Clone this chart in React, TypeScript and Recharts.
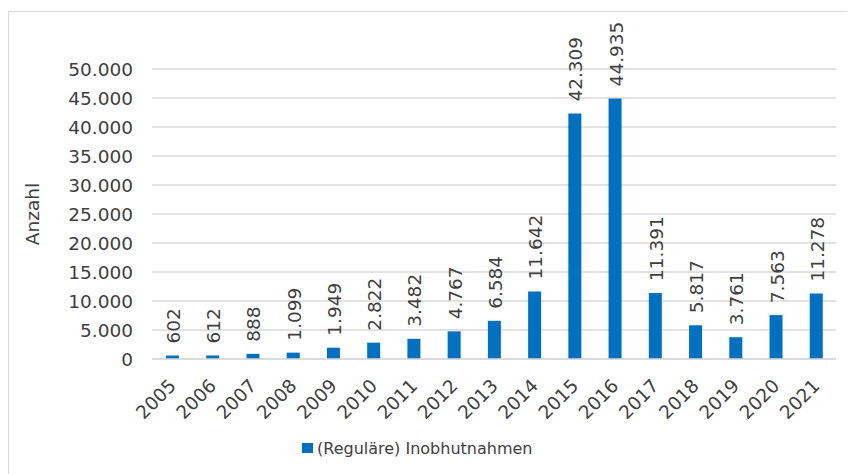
import React from 'react';
import { BarChart, Bar, XAxis, YAxis, CartesianGrid, Legend, LabelList } from 'recharts';

const years = ['2005', '2006', '2007', '2008', '2009', '2010', '2011', '2012', '2013', '2014', '2015', '2016', '2017', '2018', '2019', '2020', '2021'];
const counts = [602, 612, 888, 1099, 1949, 2822, 3482, 4767, 6584, 11642, 42309, 44935, 11391, 5817, 3761, 7563, 11278];
const yTicks = [0, 5000, 10000, 15000, 20000, 25000, 30000, 35000, 40000, 45000, 50000];
const seriesName = '(Reguläre) Inobhutnahmen';
const axisTitle = 'Anzahl';

const data = years.map((y, i) => ({ year: y, value: counts[i] }));

const FONT = '"DejaVu Sans", Verdana, sans-serif';
const TEXT = '#404040';
const BLUE = '#0070C0';
const GRID = '#d9d9d9';
const FS = 18.5;

const fmt = (v: number) => String(Math.round(v)).replace(/\B(?=(\d{3})+(?!\d))/g, '.');

const XTick = (props: any) => {
  const { x, y, payload } = props;
  const ax = x + 5;
  const ay = y + 20;
  return (
    <text x={ax} y={ay} textAnchor="end" fill={TEXT} fontFamily={FONT} fontSize={FS} transform={`rotate(-45, ${ax}, ${ay})`}>
      {payload.value}
    </text>
  );
};

const YLabel = (props: any) => {
  const { viewBox } = props;
  const cx = 23;
  const cy = viewBox.y + viewBox.height / 2;
  return (
    <text x={cx} y={cy} textAnchor="middle" dominantBaseline="central" fill={TEXT} fontFamily={FONT} fontSize={FS} transform={`rotate(-90, ${cx}, ${cy})`}>
      {axisTitle}
    </text>
  );
};

const ValueLabel = (props: any) => {
  const { x, y, width, value } = props;
  const lx = x + width / 2 + 1;
  const ly = y - 12;
  return (
    <text x={lx} y={ly} textAnchor="start" dominantBaseline="central" fill={TEXT} fontFamily={FONT} fontSize={FS} transform={`rotate(-90, ${lx}, ${ly})`}>
      {fmt(value)}
    </text>
  );
};

const LegendContent = () => (
  <div style={{ height: 20, display: 'flex', alignItems: 'center', fontFamily: FONT, fontSize: 16, color: TEXT, whiteSpace: 'nowrap' }}>
    <span style={{ display: 'inline-block', width: 11, height: 10, background: BLUE, marginRight: 4 }} />
    <span>{seriesName}</span>
  </div>
);

export default function App() {
  return (
    <div style={{ marginTop: 3, width: 880, height: 480, border: `1px solid ${GRID}`, boxSizing: 'border-box', background: '#fff' }}>
      <BarChart
        width={850}
        height={462}
        data={data}
        margin={{ top: 57, right: 23, left: 0, bottom: 16 }}
      >
        <CartesianGrid vertical={false} stroke={GRID} strokeWidth={1.5} />
        <XAxis
          dataKey="year"
          interval={0}
          height={79}
          tickLine={false}
          axisLine={{ stroke: GRID, strokeWidth: 1.5 }}
          tick={<XTick />}
        />
        <YAxis
          width={143}
          domain={[0, 50000]}
          ticks={yTicks}
          interval={0}
          tickFormatter={fmt}
          axisLine={false}
          tickLine={false}
          tickSize={0}
          tickMargin={19}
          tick={{ fill: TEXT, fontFamily: FONT, fontSize: FS }}
          label={<YLabel />}
        />
        <Legend
          align="left"
          verticalAlign="bottom"
          content={<LegendContent />}
          wrapperStyle={{ left: 293, width: 400 }}
        />
        <Bar dataKey="value" name={seriesName} fill={BLUE} barSize={13} isAnimationActive={false}>
          <LabelList dataKey="value" content={<ValueLabel />} />
        </Bar>
      </BarChart>
    </div>
  );
}
